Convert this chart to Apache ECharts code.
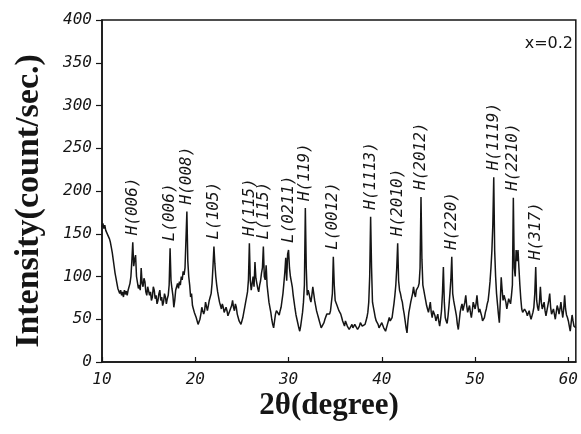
<!DOCTYPE html>
<html>
<head>
<meta charset="utf-8">
<script src="https://cdn.jsdelivr.net/npm/echarts@6/dist/echarts.min.js"></script>
<style>
  html, body { margin: 0; padding: 0; background: #ffffff; }
  #chart { width: 581px; height: 434px; }
</style>
</head>
<body>
<div id="chart"></div>
<script>
// XRD pattern, x=0.2 — scan from 10° in 0.1° steps, intensity in count/sec.
const scanStart = 10
const scanStep = 0.1
const intensity = [
  158, 162, 156, 160, 154, 152, 149, 147, 144, 140, // 10
  134, 128, 120, 112, 104, 98, 92, 86, 88, 80,      // 11
  84, 78, 82, 76, 84, 79, 83, 78, 84, 82,           // 12
  92, 100, 118, 140, 112, 120, 125, 100, 98, 86,    // 13
  90, 84, 110, 92, 88, 98, 94, 82, 78, 88,          // 14
  90, 78, 82, 72, 76, 88, 84, 74, 78, 68,           // 15
  72, 80, 84, 72, 76, 66, 70, 80, 76, 68,           // 16
  74, 78, 90, 133, 95, 86, 78, 64, 72, 84,          // 17
  88, 92, 86, 94, 90, 100, 96, 106, 102, 110,       // 18
  112, 176, 118, 100, 90, 76, 80, 66, 62, 58,       // 19
  60, 52, 50, 44, 42, 50, 56, 64, 66, 56,           // 20
  60, 70, 68, 60, 66, 72, 76, 80, 92, 112,          // 21
  135, 115, 100, 90, 82, 76, 70, 66, 62, 68,        // 22
  64, 58, 56, 64, 60, 54, 52, 60, 58, 66,           // 23
  72, 64, 60, 68, 64, 56, 52, 48, 46, 44,           // 24
  42, 52, 58, 64, 70, 76, 82, 96, 139, 95,          // 25
  84, 92, 100, 88, 117, 98, 92, 86, 82, 90,         // 26
  95, 104, 110, 135, 100, 96, 113, 90, 80, 70,      // 27
  64, 58, 50, 44, 40, 48, 56, 60, 62, 58,           // 28
  55, 60, 64, 72, 80, 92, 105, 122, 95, 126,        // 29
  131, 110, 100, 94, 88, 78, 70, 62, 55, 50,        // 30
  45, 40, 36, 42, 50, 58, 70, 90, 180, 110,         // 31
  78, 84, 80, 74, 70, 78, 88, 80, 72, 66,           // 32
  60, 56, 52, 48, 44, 40, 38, 42, 46, 50,           // 33
  52, 56, 58, 54, 56, 60, 62, 80, 123, 90,          // 34
  72, 70, 66, 64, 60, 58, 56, 52, 48, 46,           // 35
  42, 48, 46, 42, 40, 38, 36, 40, 44, 40,           // 36
  40, 44, 46, 42, 38, 40, 42, 46, 48, 42,           // 37
  40, 42, 44, 48, 52, 58, 70, 100, 170, 110,        // 38
  70, 64, 58, 52, 48, 46, 44, 40, 38, 42,           // 39
  46, 44, 40, 38, 36, 40, 44, 48, 52, 48,           // 40
  46, 52, 60, 68, 78, 90, 110, 139, 95, 84,         // 41
  80, 74, 70, 62, 56, 48, 40, 34, 48, 58,           // 42
  64, 70, 72, 80, 88, 80, 76, 84, 82, 88,           // 43
  92, 110, 193, 120, 90, 84, 78, 72, 66, 62,        // 44
  58, 64, 70, 58, 52, 60, 62, 54, 48, 52,           // 45
  56, 48, 42, 50, 60, 80, 111, 70, 52, 48,          // 46
  45, 54, 66, 80, 96, 123, 80, 72, 66, 60,          // 47
  54, 44, 38, 48, 58, 64, 68, 60, 62, 70,           // 48
  78, 66, 58, 62, 66, 58, 52, 60, 70, 66,           // 49
  62, 68, 78, 66, 58, 62, 64, 54, 48, 50,           // 50
  52, 58, 62, 68, 72, 82, 94, 110, 130, 160,        // 51
  216, 130, 100, 80, 68, 56, 46, 70, 99, 84,        // 52
  72, 78, 80, 70, 62, 68, 74, 72, 68, 78,           // 53
  90, 192, 110, 100, 131, 118, 131, 110, 90, 74,    // 54
  62, 58, 56, 62, 64, 58, 54, 56, 60, 54,           // 55
  50, 54, 58, 64, 80, 111, 72, 64, 60, 70,          // 56
  88, 70, 62, 66, 70, 60, 54, 60, 66, 72,           // 57
  80, 64, 56, 58, 62, 56, 50, 58, 66, 62,           // 58
  56, 62, 70, 60, 52, 62, 78, 62, 55, 52,           // 59
  48, 42, 36, 46, 55, 48, 42, 40, 40                // 60
]

// peak assignments (H / L phase, hkl)
const peakNames = ['H(006)', 'L(006)', 'H(008)', 'L(105)', 'H(115)', 'L(115)', 'L(0211)', 'H(119)', 'L(0012)',
  'H(1113)', 'H(2010)', 'H(2012)', 'H(220)', 'H(1119)', 'H(2210)', 'H(317)']
const peakPos = [13.3, 17.3, 19.1, 22.0, 25.8, 27.3, 30.0, 31.8, 34.8, 38.8, 41.7, 44.2, 47.5, 52.0, 54.1, 56.5]
const peakHeight = [140, 133, 176, 135, 139, 135, 131, 180, 123, 170, 139, 193, 123, 216, 192, 111]

const xTicks = [10, 20, 30, 40, 50, 60]
const sampleLabel = 'x=0.2'

const ink = '#151515'
const monoFont = '"DejaVu Sans Mono", monospace'
const serifFont = '"Liberation Serif", "DejaVu Serif", serif'

const scanData = intensity.map((v, i) => [+(scanStart + i * scanStep).toFixed(1), v])

const chart = echarts.init(document.getElementById('chart'))

const option = {
  animation: false,
  backgroundColor: '#ffffff',
  grid: {
    left: 102,
    top: 20,
    right: 5,
    bottom: 72,
    show: true,
    borderColor: ink,
    borderWidth: 1.5,
  },
  xAxis: {
    type: 'value',
    min: 10,
    max: 60.8,
    interval: 10,
    axisLine: { lineStyle: { color: ink, width: 1.5 } },
    axisTick: {
      inside: true,
      length: 5,
      customValues: xTicks,
      lineStyle: { color: ink, width: 1.2 },
    },
    axisLabel: {
      customValues: xTicks,
      margin: 10,
      color: ink,
      fontSize: 16,
      fontStyle: 'italic',
      fontFamily: monoFont,
    },
    splitLine: { show: false },
  },
  yAxis: {
    type: 'value',
    min: 0,
    max: 400,
    interval: 50,
    axisLine: { show: true, lineStyle: { color: ink, width: 1.5 } },
    axisTick: { show: true, length: 6, lineStyle: { color: ink, width: 1.2 } },
    axisLabel: {
      margin: 10,
      color: ink,
      fontSize: 16,
      fontStyle: 'italic',
      fontFamily: monoFont,
    },
    splitLine: { show: false },
  },
  series: [
    {
      type: 'line',
      data: scanData,
      showSymbol: false,
      symbol: 'none',
      lineStyle: { color: ink, width: 1.5 },
      markPoint: {
        symbol: 'circle',
        symbolSize: 0,
        label: {
          show: true,
          position: 'top',
          distance: 7,
          rotate: 90,
          align: 'left',
          verticalAlign: 'middle',
          formatter: '{b}',
          color: ink,
          fontSize: 16,
          fontStyle: 'italic',
          fontFamily: monoFont,
        },
        data: peakNames.map((name, i) => ({ name, coord: [peakPos[i], peakHeight[i]] })),
      },
    },
  ],
  graphic: [
    {
      type: 'text',
      x: 29,
      y: 201,
      rotation: Math.PI / 2,
      style: {
        text: 'Intensity(count/sec.)',
        font: 'bold 34px ' + serifFont,
        fill: ink,
        textAlign: 'center',
        textVerticalAlign: 'middle',
      },
    },
    {
      type: 'text',
      x: 329,
      y: 406,
      style: {
        text: '2θ(degree)',
        font: 'bold 31px ' + serifFont,
        fill: ink,
        textAlign: 'center',
        textVerticalAlign: 'middle',
      },
    },
    {
      type: 'text',
      x: 573,
      y: 44,
      style: {
        text: sampleLabel,
        font: '16px "DejaVu Sans", sans-serif',
        fill: ink,
        textAlign: 'right',
        textVerticalAlign: 'middle',
      },
    },
  ],
}

chart.setOption(option)
</script>
</body>
</html>
